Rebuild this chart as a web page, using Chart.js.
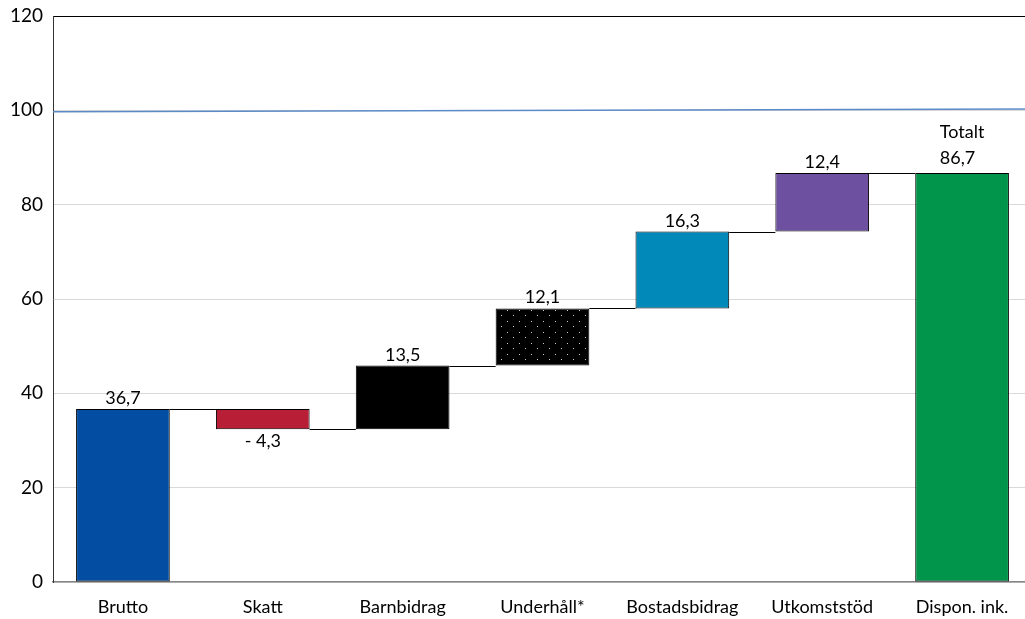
<!DOCTYPE html>
<html>
<head>
<meta charset="utf-8">
<script src="https://cdn.jsdelivr.net/npm/chart.js@4/dist/chart.umd.min.js"></script>
<style>
  html, body { margin: 0; padding: 0; background: #fff; overflow: hidden; }
  #wrap { width: 1032px; height: 619px; }
</style>
</head>
<body>
<div id="wrap"><canvas id="chart" width="1032" height="619"></canvas></div>
<script>
const categories = ['Brutto', 'Skatt', 'Barnbidrag', 'Underhåll*', 'Bostadsbidrag', 'Utkomststöd', 'Dispon. ink.'];
const barLow = [0, 32.4, 32.4, 45.9, 58.0, 74.3, 0];
const barHigh = [36.7, 36.7, 45.9, 58.0, 74.3, 86.7, 86.7];
const valueLabels = [['36,7'], ['- 4,3'], ['13,5'], ['12,1'], ['16,3'], ['12,4'], ['Totalt', '86,7']];
const labelBelow = [false, true, false, false, false, false, false];
const connectorLevels = [36.7, 32.4, 45.9, 58.0, 74.3, 86.7];
const refLine = [99.7, 100.3];
const yTicks = [0, 20, 40, 60, 80, 100, 120];

const FONT = 'Lato, "Open Sans", sans-serif';

function dotPattern() {
  const c = document.createElement('canvas');
  c.width = 12; c.height = 11;
  const g = c.getContext('2d');
  g.fillStyle = '#000';
  g.fillRect(0, 0, 12, 11);
  g.fillStyle = '#d0d0d0';
  g.fillRect(3, 2, 1, 1);
  g.fillRect(9, 7, 1, 1);
  return g.createPattern(c, 'repeat');
}

const colors = ['#034ea2', '#b81f36', '#000000', dotPattern(), '#0089b9', '#6e50a1', '#01944b'];

const extras = {
  id: 'extras',
  afterDatasetsDraw(chart) {
    const ctx = chart.ctx;
    const y = chart.scales.y;
    const area = chart.chartArea;
    const bars = chart.getDatasetMeta(0).data;

    ctx.save();
    // connectors between bars
    ctx.strokeStyle = '#000';
    ctx.lineWidth = 1;
    connectorLevels.forEach((lvl, i) => {
      const a = bars[i], b = bars[i + 1];
      const py = Math.round(y.getPixelForValue(lvl)) + 0.5;
      ctx.beginPath();
      ctx.moveTo(a.x + a.width / 2, py);
      ctx.lineTo(b.x - b.width / 2, py);
      ctx.stroke();
    });

    // reference line at 100
    ctx.strokeStyle = '#5b8ac6';
    ctx.lineWidth = 1.5;
    ctx.beginPath();
    ctx.moveTo(area.left, y.getPixelForValue(refLine[0]));
    ctx.lineTo(area.right, y.getPixelForValue(refLine[1]));
    ctx.stroke();

    // value labels
    ctx.fillStyle = '#000';
    ctx.font = '18px ' + FONT;
    bars.forEach((bar, i) => {
      const lines = valueLabels[i];
      if (labelBelow[i]) {
        ctx.textAlign = 'center';
        ctx.textBaseline = 'top';
        ctx.fillText(lines[0], bar.x, y.getPixelForValue(barLow[i]) + 3);
      } else {
        ctx.textBaseline = 'alphabetic';
        const top = y.getPixelForValue(barHigh[i]);
        if (lines.length === 1) {
          ctx.textAlign = 'center';
          ctx.fillText(lines[0], bar.x, top - 5);
        } else {
          const w = Math.max(...lines.map(t => ctx.measureText(t).width));
          ctx.textAlign = 'left';
          lines.slice().reverse().forEach((t, k) => {
            ctx.fillText(t, bar.x - w / 2, top - 9 - k * 26);
          });
        }
      }
    });
    ctx.restore();
  }
};

new Chart(document.getElementById('chart'), {
  type: 'bar',
  data: {
    labels: categories,
    datasets: [{
      data: barLow.map((lo, i) => [lo, barHigh[i]]),
      backgroundColor: colors,
      borderColor: '#000',
      borderWidth: 1,
      borderSkipped: false,
      categoryPercentage: 1,
      barPercentage: 0.67
    }]
  },
  options: {
    responsive: false,
    animation: false,
    devicePixelRatio: 1,
    layout: { padding: { top: 16, left: 0, right: 0, bottom: 0 } },
    plugins: { legend: { display: false }, tooltip: { enabled: false } },
    scales: {
      x: {
        grid: { display: false },
        border: { color: '#868686', width: 1.5 },
        ticks: { color: '#000', font: { family: FONT, size: 18 }, padding: 6, maxRotation: 0 },
        afterFit(scale) { scale.height = 37; }
      },
      y: {
        min: 0,
        max: 120,
        afterBuildTicks(scale) { scale.ticks = yTicks.map(v => ({ value: v })); },
        grid: {
          color: (c) => c.tick && c.tick.value === 120 ? '#000' : '#d9d9d9',
          drawTicks: false
        },
        border: { color: '#333', width: 1 },
        ticks: { color: '#000', font: { family: FONT, size: 19 }, padding: 10 },
        afterFit(scale) {
          scale.width = 53;
          scale.paddingTop = 0;
          scale.paddingBottom = 0;
        }
      }
    }
  },
  plugins: [extras]
});
</script>
</body>
</html>
